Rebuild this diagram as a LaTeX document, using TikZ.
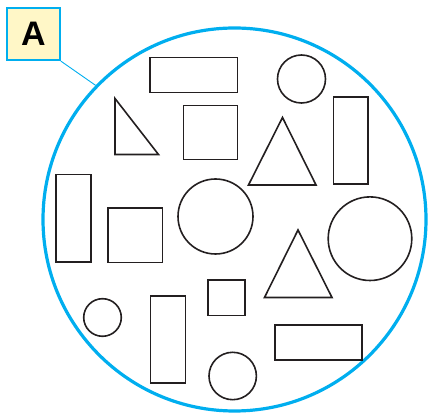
\documentclass[tikz,border=0pt]{standalone}
\usepackage{fontspec}
\setsansfont{Liberation Sans}
\usetikzlibrary{positioning}
\definecolor{setblue}{RGB}{0,174,239}
\definecolor{tagfill}{RGB}{255,247,199}
\definecolor{ink}{RGB}{35,31,32}
\tikzset{
  shp/.style={draw=ink, line width=1.6pt},
  ring/.style={circle, draw=setblue, line width=3.2pt, inner sep=0pt,
               minimum size=383pt},
  tag/.style={rectangle, draw=setblue, fill=tagfill, line width=1.8pt,
              minimum width=53pt, minimum height=52.5pt, inner sep=0pt,
              font=\sffamily\bfseries\fontsize{34}{34}\selectfont},
  lead/.style={setblue, line width=0.9pt}
}

\begin{document}
\begin{tikzpicture}[x=1pt, y=-1pt]
  \useasboundingbox (0,0) rectangle (432,414);
  \node[ring] (set) at (234.5,219.5) {};
  \node[tag] (tagA) at (33.5,34) {A};
  \draw[lead] (tagA.south east) -- (set.136);
  % rectangles
  \foreach \xa/\ya/\xb/\yb in {150/57.5/237.5/92.5, 183.5/105.5/237.5/159.5,
      333.5/97/368/184, 56/174.5/91/262, 108/208/162.5/262.5,
      208/280/245/315.5, 150.5/296/185.5/383, 275/325/362/360}
    \draw[shp] (\xa,\ya) rectangle (\xb,\yb);
  % circles
  \foreach \cx/\cy/\r in {301.5/79/24, 215.5/216.5/37.5, 370/238.7/41.8,
      102.5/317.5/18.8, 232.7/376/23.7}
    \draw[shp] (\cx,\cy) circle (\r);
  % triangles
  \draw[shp] (115,98.5) -- (115,154.5) -- (158.5,154.5) -- cycle;
  \draw[shp] (282.5,117.5) -- (248.5,185) -- (316,185) -- cycle;
  \draw[shp] (298,230) -- (264.5,297.5) -- (332,297.5) -- cycle;
\end{tikzpicture}
\end{document}
